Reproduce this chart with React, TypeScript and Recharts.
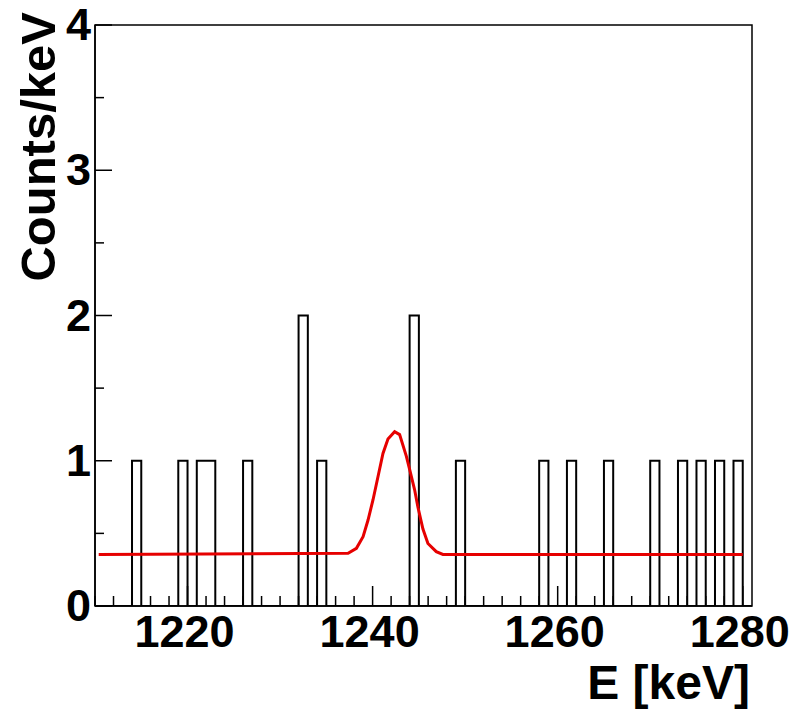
import React from "react";
import {
  ComposedChart,
  Line,
  XAxis,
  YAxis,
  ReferenceArea,
} from "recharts";

// histogram: 1 keV bins, first lower edge 1210 keV
const firstEdge = 1210;
const lastEdge = 1281;
const counts = [
  // 1210..1219
  0, 0, 0, 0, 1, 0, 0, 0, 0, 1,
  // 1220..1229
  0, 1, 1, 0, 0, 0, 1, 0, 0, 0,
  // 1230..1239
  0, 0, 2, 0, 1, 0, 0, 0, 0, 0,
  // 1240..1249
  0, 0, 0, 0, 2, 0, 0, 0, 0, 1,
  // 1250..1259
  0, 0, 0, 0, 0, 0, 0, 0, 1, 0,
  // 1260..1269
  0, 1, 0, 0, 0, 1, 0, 0, 0, 0,
  // 1270..1280
  1, 0, 0, 1, 0, 1, 0, 1, 0, 1, 0,
];

// fit curve (red)
const fitE = [
  1210.4, 1237.35, 1238.25, 1238.97, 1239.5, 1240.04, 1240.58, 1241.12,
  1241.66, 1242.38, 1242.92, 1243.65, 1244.0, 1244.54, 1244.9, 1245.44,
  1245.98, 1246.88, 1247.6, 1280,
];
const fitV = [
  0.355, 0.363, 0.397, 0.477, 0.59, 0.73, 0.89, 1.05, 1.15, 1.2, 1.18, 1.03,
  0.94, 0.8, 0.68, 0.53, 0.43, 0.374, 0.355, 0.355,
];

const xTicks = [
  1210, 1212, 1214, 1216, 1218, 1220, 1222, 1224, 1226, 1228, 1230, 1232,
  1234, 1236, 1238, 1240, 1242, 1244, 1246, 1248, 1250, 1252, 1254, 1256,
  1258, 1260, 1262, 1264, 1266, 1268, 1270, 1272, 1274, 1276, 1278, 1280,
];
const yTicks = [0, 0.5, 1, 1.5, 2, 2.5, 3, 3.5, 4];

const histData = counts
  .map((c, i) => ({ e: firstEdge + i, c }))
  .concat([{ e: lastEdge, c: 0 }]);
const fitData = fitE.map((e, i) => ({ e, v: fitV[i] }));

const FONT = "'Liberation Sans', Arial, Helvetica, sans-serif";

const XTick = (props: any) => {
  const { x, y, payload } = props;
  const major = payload.value % 20 === 0;
  return (
    <g>
      <line x1={x} x2={x} y1={y} y2={y - (major ? 20 : 10)} stroke="#000" strokeWidth={1.5} />
      {major && (
        <text x={x - 3} y={y + 41} textAnchor="middle" fontFamily={FONT} fontWeight="bold" fontSize={45} fill="#000">
          {payload.value}
        </text>
      )}
    </g>
  );
};

const YTick = (props: any) => {
  const { x, y, payload } = props;
  const major = Number.isInteger(payload.value);
  return (
    <g>
      <line x1={x} x2={x + (major ? 17 : 9)} y1={y} y2={y} stroke="#000" strokeWidth={1.5} />
      {major && (
        <text x={x - 4} y={y + 15} textAnchor="end" fontFamily={FONT} fontWeight="bold" fontSize={45} fill="#000">
          {payload.value}
        </text>
      )}
    </g>
  );
};

const YTitle = () => (
  <text
    x={55}
    y={12}
    transform="rotate(-90 55 12)"
    textAnchor="end"
    fontFamily={FONT}
    fontWeight="bold"
    fontSize={49}
    fill="#000"
  >
    Counts/keV
  </text>
);

const XTitle = () => (
  <text
    x={750}
    y={699}
    textAnchor="end"
    fontFamily={FONT}
    fontWeight="bold"
    fontSize={48}
    fill="#000"
  >
    E [keV]
  </text>
);

export default function App() {
  return (
    <div style={{ position: "absolute", left: 0, top: 0, background: "#fff" }}>
      <ComposedChart
        width={796}
        height={709}
        margin={{ top: 25, right: 44, bottom: 0, left: 0 }}
      >
        <XAxis
          dataKey="e"
          type="number"
          domain={[firstEdge, lastEdge]}
          allowDataOverflow
          ticks={xTicks}
          interval={0}
          tickSize={0}
          tickMargin={0}
          tickLine={false}
          tick={<XTick />}
          height={103}
          axisLine={{ stroke: "#000", strokeWidth: 1.5 }}
          label={{ content: () => <XTitle /> }}
        />
        <YAxis
          type="number"
          domain={[0, 4]}
          allowDataOverflow
          ticks={yTicks}
          interval={0}
          tickSize={0}
          tickMargin={0}
          tickLine={false}
          tick={<YTick />}
          width={95}
          axisLine={{ stroke: "#000", strokeWidth: 1.5 }}
          label={{ content: () => <YTitle /> }}
        />
        <ReferenceArea
          x1={firstEdge}
          x2={lastEdge}
          y1={0}
          y2={4}
          fill="none"
          fillOpacity={0}
          stroke="#000"
          strokeWidth={1.5}
        />
        <Line
          data={histData}
          dataKey="c"
          type="stepAfter"
          stroke="#000"
          strokeWidth={2}
          dot={false}
          activeDot={false}
          isAnimationActive={false}
        />
        <Line
          data={fitData}
          dataKey="v"
          type="linear"
          stroke="#e60000"
          strokeWidth={3}
          dot={false}
          activeDot={false}
          isAnimationActive={false}
        />
      </ComposedChart>
    </div>
  );
}
